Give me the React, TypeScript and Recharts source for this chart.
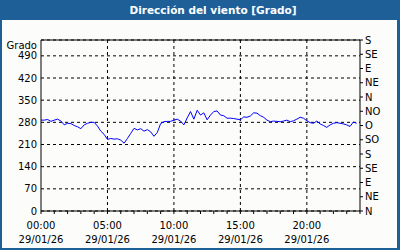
import React from 'react'
import { LineChart, Line, XAxis, YAxis, CartesianGrid, ReferenceLine } from 'recharts'

const TITLE = 'Dirección del viento [Grado]'
const UNIT = 'Grado'
const DATE_LABEL = '29/01/26'

// lecturas cada 15 min desde las 00:00
const STEP_H = 0.25
const direccion = [
  287, 287, 289, 283, 287, 290, 284, 272, 277, 276, 270, 266,
  260, 272, 277, 280, 280, 268, 252, 242, 226, 229, 227, 228,
  224, 214, 229, 245, 261, 256, 260, 252, 257, 250, 236, 248,
  276, 282, 283, 283, 287, 290, 284, 272, 294, 314, 290, 318,
  303, 310, 288, 303, 314, 316, 303, 301, 293, 293, 292, 290,
  288, 297, 296, 300, 310, 309, 301, 296, 287, 282, 284, 283,
  282, 284, 287, 282, 285, 290, 296, 293, 285, 279, 277, 284,
  275, 270, 264, 272, 277, 279, 277, 275, 272, 267, 281, 277,
]

const hourTicks = [0, 1, 2, 3, 4, 5, 6, 7, 8, 9, 10, 11, 12, 13, 14, 15, 16, 17, 18, 19, 20, 21, 22, 23, 24]
const hourLabels = [0, 5, 10, 15, 20]
const gradoTicks = [0, 70, 140, 210, 280, 350, 420, 490]
const dirTicks = [0, 45, 90, 135, 180, 225, 270, 315, 360, 405, 450, 495, 540]
const dirLabels = ['N', 'NE', 'E', 'SE', 'S', 'SO', 'O', 'NO', 'N', 'NE', 'E', 'SE', 'S']

const AZUL = '#1e5f98'
const FONT = '"DejaVu Sans", sans-serif'

const datos = direccion.map((v, i) => ({ h: i * STEP_H, v }))

const TickHora = (props: any) => {
  const { x, y, payload } = props
  if (!hourLabels.includes(payload.value)) return <g />
  const hh = String(payload.value).padStart(2, '0') + ':00'
  return (
    <g>
      <text x={x} y={y + 13} textAnchor="middle" fontSize={10} fontFamily={FONT} fill="#000">{hh}</text>
      <text x={x} y={y + 27} textAnchor="middle" fontSize={10} fontFamily={FONT} fill="#000">{DATE_LABEL}</text>
    </g>
  )
}

const TickRumbo = (props: any) => {
  const { x, y, payload } = props
  const txt = dirLabels[dirTicks.indexOf(payload.value)]
  return (
    <text x={x} y={y} dy={3.5} textAnchor="start" fontSize={10} fontFamily={FONT} fill="#000">{txt}</text>
  )
}

export default function App() {
  return (
    <div style={{ position: 'absolute', left: 0, top: 0, width: 400, height: 250, background: '#fcfdfa', fontFamily: FONT }}>
      <div style={{ position: 'absolute', left: 0, top: 0, width: 400, height: 20, background: AZUL }}>
        <div style={{ position: 'absolute', left: 26, right: 0, top: 0, textAlign: 'center', color: '#fff', fontWeight: 'bold', fontSize: 10.5, lineHeight: '20px' }}>
          {TITLE}
        </div>
      </div>
      <div style={{ position: 'absolute', left: 0, top: 0 }}>
        <LineChart width={400} height={250} data={datos} margin={{ top: 40, right: 0, bottom: 0, left: 0 }}>
          <CartesianGrid vertical={false} stroke="#000" strokeDasharray="3 3" />
          {hourLabels.slice(1).map(h => (
            <ReferenceLine key={h} x={h} stroke="#000" strokeDasharray="3 3" />
          ))}
          <ReferenceLine y={540} stroke="#000" />
          <XAxis
            dataKey="h"
            type="number"
            domain={[0, 24]}
            ticks={hourTicks}
            interval={0}
            height={39}
            stroke="#000"
            tickSize={3}
            tickMargin={2}
            tick={<TickHora />}
          />
          <YAxis
            domain={[0, 540]}
            ticks={gradoTicks}
            interval={0}
            width={41}
            stroke="#000"
            tickLine={false}
            tickSize={0}
            tickMargin={4}
            tick={{ fontSize: 10, fill: '#000', fontFamily: FONT }}
            label={{
              content: ({ viewBox }: any) => (
                <text x={viewBox.x + viewBox.width - 4} y={viewBox.y + 9} textAnchor="end" fontSize={10} fontFamily={FONT} fill="#000">
                  {UNIT}
                </text>
              ),
            }}
          />
          <YAxis
            yAxisId="r"
            orientation="right"
            type="number"
            domain={[0, 540]}
            ticks={dirTicks}
            interval={0}
            width={40}
            stroke="#000"
            tickSize={3}
            tickMargin={2}
            tick={<TickRumbo />}
          />
          <Line yAxisId="r" dataKey="v" stroke="none" dot={false} legendType="none" isAnimationActive={false} />
          <Line dataKey="v" stroke="#0000ff" strokeWidth={1} dot={false} isAnimationActive={false} />
        </LineChart>
      </div>
      <div style={{ position: 'absolute', left: 0, top: 0, width: 400, height: 250, boxSizing: 'border-box', borderLeft: `2px solid ${AZUL}`, borderRight: `3px solid ${AZUL}`, borderBottom: `2px solid ${AZUL}`, pointerEvents: 'none' }} />
    </div>
  )
}
